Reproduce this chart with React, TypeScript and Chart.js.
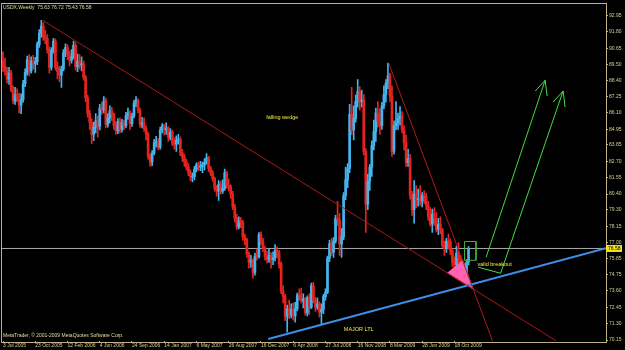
import React, { useEffect, useRef } from 'react';
import { Chart, registerables } from 'chart.js';

Chart.register(...registerables);

// ---- weekly USDX candles (index 0 = week of 3 Jul 2005) ----
const opens = [
  89.75, 89.35, 89.05, 88.45, 88.90, 87.75, 86.95, 87.40, 87.15, 86.65, 87.05, 88.15, 88.95, 89.85, 89.05, 89.75, 89.55, 89.70, 90.90, 91.70, 92.20, 91.45, 91.30, 90.55, 89.30, 90.50,
  91.15, 89.30, 89.00, 88.75, 89.20, 90.35, 90.70, 90.20, 89.80, 90.05, 90.85, 89.35, 89.75, 89.45, 89.55, 88.60, 87.15, 86.05, 85.45, 84.60, 85.10, 85.55, 85.15, 86.45, 86.30, 86.95, 85.30, 85.75, 86.25, 86.00, 85.20, 84.85, 85.50, 84.95, 85.40, 85.20, 85.90, 86.10, 85.35, 85.90, 86.80, 87.00, 86.30, 85.30, 85.40, 85.00, 84.60, 83.05, 82.65, 83.30, 84.00, 84.10,
  83.70, 84.90, 85.20, 84.90, 85.05, 84.40, 84.75, 84.00, 83.90, 84.20, 84.25, 83.30, 83.00, 82.65, 82.30, 81.95, 81.60, 81.65, 82.15, 82.45, 82.30, 82.35, 82.45, 82.65, 82.95, 82.20, 81.90, 81.50, 80.80, 80.60, 81.10, 80.60, 80.80, 81.90, 81.00, 80.90, 80.40, 79.50, 78.70, 78.10, 78.50, 78.40, 77.40, 77.20, 76.20, 75.60, 75.75, 74.90, 76.05, 76.00, 77.55, 77.10,
  76.60, 76.00, 75.80, 76.10, 75.80, 75.90, 76.45, 76.30, 75.50, 73.60, 73.20, 71.80, 72.35, 71.90, 72.30, 71.85, 72.35, 73.30, 73.25, 72.90, 73.05, 72.05, 73.10, 72.45, 73.95, 72.95, 72.45, 72.70, 72.10, 72.30, 73.20, 73.50, 75.90, 76.90, 76.30, 77.10, 78.70, 78.60, 76.90, 77.40, 80.30, 81.40, 82.20, 86.00, 84.90, 85.70, 86.90, 87.60, 86.90, 87.00, 83.40, 79.70,
  81.30, 82.30, 83.80, 84.80, 86.10, 85.50, 85.20, 86.60, 87.40, 88.20, 88.70, 87.30, 83.40, 85.20, 85.40, 85.70, 85.90, 84.90, 84.00, 82.60, 82.90, 80.30, 79.30, 80.40, 80.00, 80.05, 79.90, 80.30, 80.25, 79.60, 78.80, 78.30, 79.00, 78.70, 77.90, 78.30, 77.90, 76.80, 76.60, 77.10, 77.05, 76.40, 75.60, 75.45, 76.25, 75.90, 75.55, 75.40, 74.80, 75.63,
];
const highs = [
  90.40, 89.95, 89.30, 89.30, 89.10, 88.00, 87.90, 87.80, 87.50, 87.45, 88.40, 89.20, 90.10, 90.20, 90.05, 90.15, 90.00, 91.10, 91.95, 92.60, 92.45, 91.90, 91.60, 90.75, 90.70, 91.35,
  91.30, 89.70, 89.40, 89.40, 90.55, 90.95, 90.90, 90.45, 90.55, 91.15, 91.05, 90.25, 90.20, 90.05, 89.75, 88.75, 87.35, 86.30, 85.70, 85.45, 86.05, 85.90, 86.70, 86.85, 87.25, 87.15, 86.05, 86.60, 86.50, 86.10, 85.50, 85.70, 85.75, 85.65, 85.60, 86.15, 86.45, 86.25, 86.10, 87.00, 87.25, 87.10, 86.45, 85.80, 85.75, 85.20, 84.75, 83.25, 83.45, 84.25, 84.45, 84.30,
  85.10, 85.35, 85.30, 85.40, 85.15, 85.00, 84.90, 84.35, 84.50, 84.60, 84.40, 83.55, 83.20, 82.85, 82.55, 82.10, 81.90, 82.35, 82.60, 82.65, 82.70, 82.65, 82.90, 83.25, 83.05, 82.35, 82.05, 81.60, 81.00, 81.35, 81.30, 81.40, 82.15, 82.00, 81.45, 81.05, 80.60, 79.70, 79.00, 78.80, 78.75, 78.55, 77.60, 77.30, 76.35, 76.10, 75.85, 76.25, 76.55, 77.70, 77.75, 77.30,
  76.75, 76.40, 76.55, 76.30, 76.35, 76.85, 76.70, 76.45, 75.65, 73.95, 73.35, 72.60, 72.95, 72.70, 72.75, 72.80, 73.45, 73.75, 73.80, 73.40, 73.15, 73.25, 73.40, 74.15, 74.20, 73.15, 73.10, 72.85, 72.70, 73.35, 73.75, 76.05, 77.15, 77.30, 77.35, 78.90, 79.90, 79.05, 78.00, 80.50, 82.30, 82.55, 86.70, 87.90, 86.60, 87.35, 88.45, 87.95, 87.70, 87.40, 83.60, 81.80,
  82.50, 84.15, 85.60, 86.45, 86.90, 86.40, 86.85, 88.00, 88.45, 89.60, 88.90, 88.00, 85.55, 86.90, 86.10, 86.55, 86.20, 85.20, 84.55, 83.55, 83.20, 80.60, 81.35, 81.00, 80.75, 81.00, 80.50, 80.65, 80.45, 79.90, 79.45, 79.35, 79.45, 79.10, 78.70, 78.80, 78.00, 77.10, 77.30, 77.60, 77.25, 76.55, 76.00, 76.75, 77.00, 76.10, 75.80, 75.55, 75.80, 76.72,
];
const lows = [
  89.00, 88.75, 88.20, 88.10, 87.60, 86.75, 86.70, 86.90, 86.10, 86.05, 86.85, 87.95, 88.75, 88.70, 88.90, 89.20, 88.95, 89.50, 90.70, 91.40, 91.20, 90.95, 90.30, 88.90, 89.10, 90.30,
  89.10, 88.50, 88.30, 87.90, 89.05, 90.05, 89.85, 89.40, 89.60, 89.90, 89.10, 89.00, 89.20, 89.05, 88.40, 86.90, 85.80, 84.95, 83.95, 84.15, 84.70, 84.40, 84.90, 86.00, 86.10, 85.05, 85.10, 85.40, 85.55, 84.95, 84.60, 84.65, 84.70, 84.75, 84.90, 85.05, 85.65, 84.95, 85.15, 85.75, 86.55, 86.10, 85.10, 85.05, 84.80, 84.20, 82.85, 82.35, 82.40, 83.15, 83.70, 83.50,
  83.55, 84.70, 84.55, 84.60, 84.10, 84.20, 83.80, 83.55, 83.40, 83.90, 83.10, 82.70, 82.35, 82.10, 81.70, 81.35, 81.25, 81.40, 81.95, 82.05, 82.05, 81.90, 82.10, 82.50, 82.00, 81.70, 81.30, 80.60, 80.25, 79.95, 80.40, 80.45, 80.65, 80.80, 80.60, 80.10, 79.30, 78.45, 77.90, 77.95, 78.05, 77.15, 76.85, 75.95, 75.20, 75.25, 74.50, 74.70, 75.75, 75.90, 76.85, 76.35,
  75.75, 75.55, 75.60, 75.20, 75.45, 75.70, 75.95, 75.20, 73.40, 72.75, 71.50, 70.70, 71.65, 71.70, 71.55, 71.40, 72.20, 72.95, 72.75, 72.40, 71.90, 71.85, 71.95, 72.35, 72.75, 72.15, 72.30, 71.75, 71.30, 72.00, 72.95, 73.40, 75.65, 76.10, 75.95, 76.95, 78.20, 76.10, 75.95, 77.20, 80.00, 80.85, 81.90, 84.55, 84.20, 85.45, 86.50, 86.30, 86.50, 83.15, 77.70, 79.30,
  80.65, 81.65, 83.50, 84.10, 85.10, 84.60, 84.95, 86.40, 86.85, 87.80, 86.90, 83.05, 83.20, 84.90, 84.95, 85.25, 84.70, 83.50, 82.35, 82.35, 80.05, 78.90, 78.35, 79.45, 79.55, 79.60, 79.50, 79.75, 79.30, 78.55, 78.15, 77.70, 78.20, 77.75, 77.55, 77.60, 76.65, 76.10, 76.30, 76.55, 76.15, 75.30, 74.95, 75.20, 75.55, 74.90, 74.95, 74.20, 74.40, 75.43,
];
const closes = [
  89.35, 89.05, 88.45, 88.90, 87.75, 86.95, 87.40, 87.15, 86.65, 87.05, 88.15, 88.95, 89.85, 89.05, 89.75, 89.55, 89.70, 90.90, 91.70, 92.20, 91.45, 91.30, 90.55, 89.30, 90.50, 91.15,
  89.30, 89.00, 88.75, 89.20, 90.35, 90.70, 90.20, 89.80, 90.05, 90.85, 89.35, 89.75, 89.45, 89.55, 88.60, 87.15, 86.05, 85.45, 84.60, 85.10, 85.55, 85.15, 86.45, 86.30, 86.95, 85.30, 85.75, 86.25, 86.00, 85.20, 84.85, 85.50, 84.95, 85.40, 85.20, 85.90, 86.10, 85.35, 85.90, 86.80, 87.00, 86.30, 85.30, 85.40, 85.00, 84.60, 83.05, 82.65, 83.30, 84.00, 84.10, 83.70,
  84.90, 85.20, 84.90, 85.05, 84.40, 84.75, 84.00, 83.90, 84.20, 84.25, 83.30, 83.00, 82.65, 82.30, 81.95, 81.60, 81.65, 82.15, 82.45, 82.30, 82.35, 82.45, 82.65, 82.95, 82.20, 81.90, 81.50, 80.80, 80.60, 81.10, 80.60, 80.80, 81.90, 81.00, 80.90, 80.40, 79.50, 78.70, 78.10, 78.50, 78.40, 77.40, 77.20, 76.20, 75.60, 75.75, 74.90, 76.05, 76.00, 77.55, 77.10, 76.60,
  76.00, 75.80, 76.10, 75.80, 75.90, 76.45, 76.30, 75.50, 73.60, 73.20, 71.80, 72.35, 71.90, 72.30, 71.85, 72.35, 73.30, 73.25, 72.90, 73.05, 72.05, 73.10, 72.45, 73.95, 72.95, 72.45, 72.70, 72.10, 72.30, 73.20, 73.50, 75.90, 76.90, 76.30, 77.10, 78.70, 78.60, 76.90, 77.40, 80.30, 81.40, 82.20, 86.00, 84.90, 85.70, 86.90, 87.60, 86.90, 87.00, 83.40, 79.70, 81.30,
  82.30, 83.80, 84.80, 86.10, 85.50, 85.20, 86.60, 87.40, 88.20, 88.70, 87.30, 83.40, 85.20, 85.40, 85.70, 85.90, 84.90, 84.00, 82.60, 82.90, 80.30, 79.30, 80.40, 80.00, 80.05, 79.90, 80.30, 80.25, 79.60, 78.80, 78.30, 79.00, 78.70, 77.90, 78.30, 77.90, 76.80, 76.60, 77.10, 77.05, 76.40, 75.60, 75.45, 76.25, 75.90, 75.55, 75.40, 74.80, 75.60, 76.58,
];

// ---- axis ticks ----
const xTickIdx = [0, 16, 32, 48, 64, 80, 96, 112, 128, 144, 160, 176, 192, 208, 224];
const xTickLabels = ['3 Jul 2005', '23 Oct 2005', '12 Feb 2006', '4 Jun 2006', '24 Sep 2006', '14 Jan 2007', '6 May 2007', '26 Aug 2007', '16 Dec 2007', '6 Apr 2008', '27 Jul 2008', '16 Nov 2008', '8 Mar 2009', '28 Jun 2009', '18 Oct 2009'];
const yTicks = [92.95, 91.80, 90.65, 89.50, 88.40, 87.25, 86.10, 84.95, 83.85, 82.70, 81.55, 80.40, 79.30, 78.15, 77.00, 75.85, 74.75, 73.60, 72.45, 71.30, 70.15];

// ---- drawn objects (x = week index, y = price) ----
const wedgeX = [19.8, 274.6];
const wedgeY = [92.6, 70.08];
const steepX = [191.4, 242.9];
const steepY = [89.6, 70.08];
const ltlX = [131.6, 299.2];
const ltlY = [70.22, 76.59];
const triX = [220.6, 228.0, 233.3, 220.6];
const triY = [74.85, 75.73, 73.73, 74.85];
const boxX = [229.0, 234.7, 234.7, 229.0, 229.0];
const boxY = [77.07, 77.07, 75.75, 75.75, 77.07];
const arrow1X = [239.7, 269.0];
const arrow1Y = [75.96, 88.40];
const arrow1HeadX = [264.1, 269.0, 270.0];
const arrow1HeadY = [87.64, 88.40, 87.29];
const arrow2X = [235.9, 246.9, 277.9];
const arrow2Y = [75.26, 74.84, 87.64];
const arrow2HeadX = [273.0, 277.9, 278.9];
const arrow2HeadY = [86.87, 87.64, 86.52];

const notes = [
  { text: 'falling wedge', x: 130.6, y: 85.75 },
  { text: 'valid breakout', x: 235.4, y: 75.47 },
  { text: 'MAJOR LTL', x: 169.1, y: 70.92 },
];

const BULL = '#45b4ec';
const BEAR = '#e52420';
const FRAME = '#bfb28a';
const AXIS_TXT = '#d8cf90';
const NOTE_TXT = '#f0ea48';
const FONT = '"Liberation Sans", Arial, sans-serif';

const pts = (xs: number[], ys: number[]) => xs.map((x, i) => ({ x, y: ys[i] }));

const lineDs = (xs: number[], ys: number[], color: string, width = 1, extra = {}) => ({
  type: 'line' as const,
  data: pts(xs, ys),
  borderColor: color,
  borderWidth: width,
  pointRadius: 0,
  tension: 0,
  fill: false,
  order: 1,
  ...extra,
});

const mtPlugin = {
  id: 'mtDecor',
  beforeDraw(chart: any) {
    const { ctx, width, height } = chart;
    ctx.save();
    ctx.fillStyle = '#000';
    ctx.fillRect(0, 0, width, height);
    ctx.restore();
  },
  afterDatasetsDraw(chart: any) {
    const { ctx, chartArea: a, scales } = chart;
    const xs = scales.x;
    const ys = scales.y;
    ctx.save();
    ctx.strokeStyle = FRAME;
    ctx.lineWidth = 1;
    ctx.strokeRect(Math.round(a.left) - 0.5, Math.round(a.top) - 0.5, Math.round(a.right - a.left) + 1, Math.round(a.bottom - a.top) + 1);

    ctx.fillStyle = NOTE_TXT;
    ctx.font = `5.5px ${FONT}`;
    ctx.textBaseline = 'middle';
    ctx.textAlign = 'left';
    notes.forEach((n) => {
      ctx.fillText(n.text, xs.getPixelForValue(n.x), ys.getPixelForValue(n.y));
    });

    const last = closes.length - 1;
    const title = `USDX,Weekly  ${opens[last].toFixed(2)} ${highs[last].toFixed(2)} ${lows[last].toFixed(2)} ${closes[last].toFixed(2)}`;
    ctx.fillStyle = '#e6dfa2';
    ctx.font = `5px ${FONT}`;
    ctx.fillText(title, a.left + 1, a.top + 4);
    ctx.fillText('MetaTrader, \u00a9 2001-2009 MetaQuotes Software Corp.', a.left + 1, a.bottom - 5);
    ctx.restore();
  },
  afterDraw(chart: any) {
    const { ctx, chartArea: a, scales } = chart;
    const last = closes[closes.length - 1];
    const py = scales.y.getPixelForValue(last);
    ctx.save();
    ctx.fillStyle = '#f2e31c';
    ctx.fillRect(a.right, py - 3.5, 16, 7);
    ctx.fillStyle = '#000';
    ctx.font = `5px ${FONT}`;
    ctx.textBaseline = 'middle';
    ctx.textAlign = 'left';
    ctx.fillText(last.toFixed(2), a.right + 2, py + 0.5);
    ctx.restore();
  },
};

export default function App() {
  const ref = useRef<HTMLCanvasElement>(null);

  useEffect(() => {
    document.body.style.margin = '0';
    const canvas = ref.current;
    if (!canvas) return;

    const idx = closes.map((_, i) => i);
    const colors = idx.map((i) => (closes[i] >= opens[i] ? BULL : BEAR));

    const chart = new Chart(canvas, {
      type: 'bar',
      data: {
        datasets: [
          lineDs([-0.5, 299.2], [closes[closes.length - 1], closes[closes.length - 1]], '#a9a9a9', 1, { order: 20 }),
          {
            type: 'bar',
            data: idx.map((i) => ({ x: i, y: [lows[i], highs[i]] })),
            backgroundColor: colors,
            borderWidth: 0,
            barThickness: 1,
            grouped: false,
            order: 11,
          } as any,
          {
            type: 'bar',
            data: idx.map((i) => ({ x: i, y: [opens[i], closes[i]] })),
            backgroundColor: colors,
            borderWidth: 0,
            barThickness: 2,
            minBarLength: 1,
            grouped: false,
            order: 10,
          } as any,
          lineDs(wedgeX, wedgeY, '#a61a1a'),
          lineDs(steepX, steepY, '#b01c1c'),
          lineDs(ltlX, ltlY, '#3d8fe6', 2),
          lineDs(triX, triY, '#ff62b0', 1, { fill: 'shape', backgroundColor: '#ff62b0' }),
          lineDs(boxX, boxY, '#3fb23f'),
          lineDs(arrow1X, arrow1Y, '#44dd44'),
          lineDs(arrow1HeadX, arrow1HeadY, '#44dd44'),
          lineDs(arrow2X, arrow2Y, '#44dd44'),
          lineDs(arrow2HeadX, arrow2HeadY, '#44dd44'),
        ] as any,
      },
      options: {
        responsive: false,
        animation: false,
        events: [],
        layout: { padding: { left: 2, top: 2, right: 0, bottom: 0 } },
        plugins: {
          legend: { display: false },
          tooltip: { enabled: false },
          title: { display: false },
        },
        scales: {
          x: {
            type: 'linear',
            min: -0.5,
            max: 299.2,
            offset: false,
            grid: { display: true, offset: false, drawOnChartArea: false, drawTicks: true, tickLength: 2, color: FRAME },
            border: { display: false },
            afterBuildTicks: (scale: any) => {
              scale.ticks = xTickIdx.map((v) => ({ value: v }));
            },
            afterFit: (scale: any) => {
              scale.height = 9;
            },
            ticks: {
              autoSkip: false,
              maxRotation: 0,
              minRotation: 0,
              align: 'start',
              padding: 0,
              color: AXIS_TXT,
              font: { size: 5, family: FONT, lineHeight: 1 },
              callback: (_v: any, i: number) => xTickLabels[i],
            },
          },
          y: {
            type: 'linear',
            position: 'right',
            min: 70.08,
            max: 93.79,
            beginAtZero: false,
            grid: { display: true, drawOnChartArea: false, drawTicks: true, tickLength: 2, color: FRAME },
            border: { display: false },
            afterBuildTicks: (scale: any) => {
              scale.ticks = yTicks.map((v) => ({ value: v }));
            },
            afterFit: (scale: any) => {
              scale.width = 19;
            },
            ticks: {
              autoSkip: false,
              padding: 1,
              color: AXIS_TXT,
              font: { size: 5, family: FONT, lineHeight: 1 },
              callback: (v: any) => Number(v).toFixed(2),
            },
          },
        },
      } as any,
      plugins: [mtPlugin],
    });

    return () => chart.destroy();
  }, []);

  return (
    <div style={{ position: 'fixed', left: 0, top: 0, width: 625, height: 350, background: '#000' }}>
      <canvas ref={ref} width={625} height={350} style={{ display: 'block', width: 625, height: 350 }} />
    </div>
  );
}
